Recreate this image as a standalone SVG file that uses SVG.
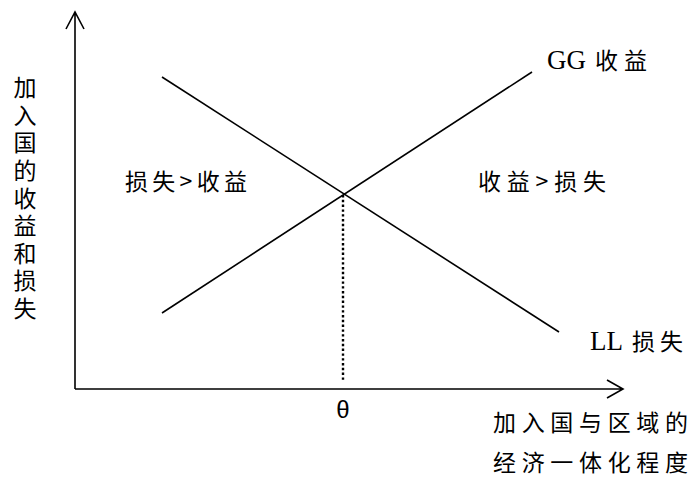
<svg xmlns="http://www.w3.org/2000/svg" width="691" height="477" viewBox="0 0 691 477">
<style>
.ln{stroke:#000;stroke-width:1.6;fill:none}
.cjk{font-family:"Noto Sans CJK SC","Noto Sans CJK JP",sans-serif;font-size:23px;fill:#000}
.lat{font-family:"Liberation Serif",serif;font-size:27px;fill:#000}
</style>
<rect width="691" height="477" fill="#fff"/>
<g id="axes">
<path class="ln" d="M75,389 V12 M66,29 L75,12 L84,29"/>
<path class="ln" d="M75,389 H623 M607,380 L623,389 L607,398"/>
</g>
<g id="connectors">
<line class="ln" x1="162" y1="313" x2="532" y2="72"/>
<line class="ln" x1="162" y1="77" x2="559" y2="332"/>
<line x1="343" y1="195" x2="343" y2="381" stroke="#000" stroke-width="2.4" stroke-dasharray="2.4,2.4"/>
</g>
<g id="ylabel"><text class="cjk" x="25" y="76" writing-mode="vertical-rl" letter-spacing="4.6">加入国的收益和损失</text></g>
<g id="left-region"><text class="cjk" x="125" y="190" textLength="122" lengthAdjust="spacing">损失&gt;收益</text></g>
<g id="right-region"><text class="cjk" x="478" y="190" textLength="128" lengthAdjust="spacing">收益&gt;损失</text></g>
<g id="gg"><text class="lat" x="547" y="69">GG</text><text class="cjk" x="595" y="69" textLength="52" lengthAdjust="spacing">收益</text></g>
<g id="ll"><text class="lat" x="590" y="350">LL</text><text class="cjk" x="632" y="350" textLength="51" lengthAdjust="spacing">损失</text></g>
<g id="theta"><text x="343" y="418" text-anchor="middle" font-family="Liberation Sans,sans-serif" font-size="24">θ</text></g>
<g id="xlabel" class="cjk">
<text x="493" y="431" textLength="195" lengthAdjust="spacing">加入国与区域的</text>
<text x="493" y="471" textLength="195" lengthAdjust="spacing">经济一体化程度</text>
</g>
</svg>
